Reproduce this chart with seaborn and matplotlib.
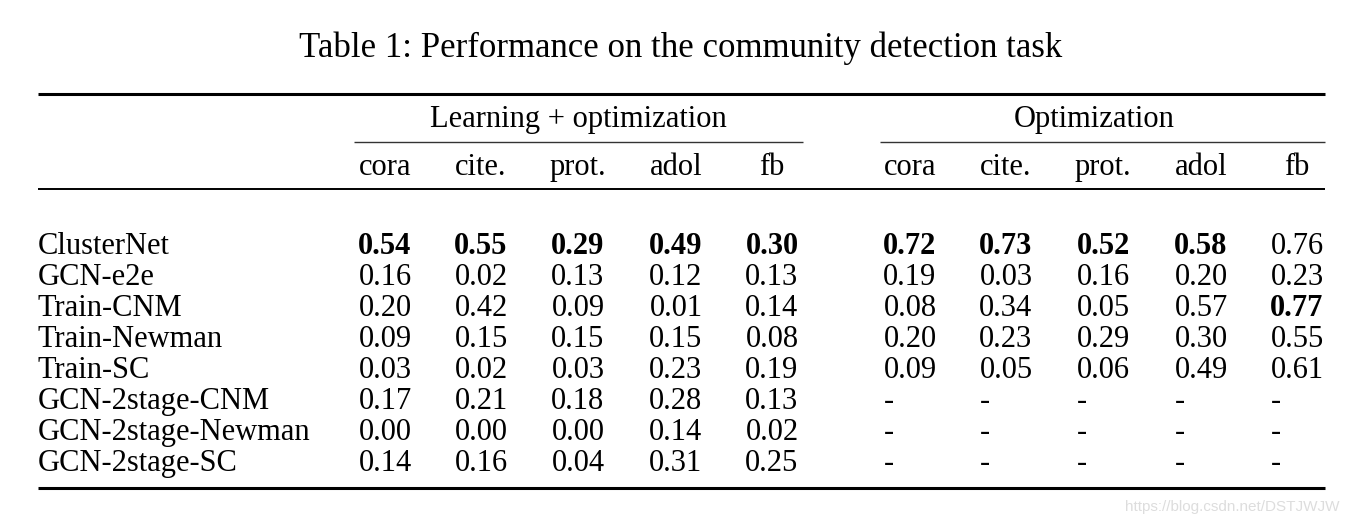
import matplotlib
matplotlib.use("Agg")
import matplotlib.pyplot as plt
import seaborn as sns

# table content
methods = ["ClusterNet", "GCN-e2e", "Train-CNM", "Train-Newman", "Train-SC",
           "GCN-2stage-CNM", "GCN-2stage-Newman", "GCN-2stage-SC"]
datasets = ["cora", "cite.", "prot.", "adol", "fb"]
groups = ["Learning + optimization", "Optimization"]

learn_vals = [
    [0.54, 0.55, 0.29, 0.49, 0.30],
    [0.16, 0.02, 0.13, 0.12, 0.13],
    [0.20, 0.42, 0.09, 0.01, 0.14],
    [0.09, 0.15, 0.15, 0.15, 0.08],
    [0.03, 0.02, 0.03, 0.23, 0.19],
    [0.17, 0.21, 0.18, 0.28, 0.13],
    [0.00, 0.00, 0.00, 0.14, 0.02],
    [0.14, 0.16, 0.04, 0.31, 0.25],
]
opt_vals = [
    [0.72, 0.73, 0.52, 0.58, 0.76],
    [0.19, 0.03, 0.16, 0.20, 0.23],
    [0.08, 0.34, 0.05, 0.57, 0.77],
    [0.20, 0.23, 0.29, 0.30, 0.55],
    [0.09, 0.05, 0.06, 0.49, 0.61],
    [None] * 5,
    [None] * 5,
    [None] * 5,
]

title = "Table 1: Performance on the community detection task"
watermark = "https://blog.csdn.net/DSTJWJW"

sns.set_theme(style="white")
plt.rcParams["font.family"] = ["Liberation Serif", "DejaVu Serif"]
plt.rcParams["text.color"] = "black"

W, H = 1348, 520
fig = plt.figure(figsize=(W / 100, H / 100), dpi=100)
ax = fig.add_axes([0, 0, 1, 1])
ax.set_xlim(0, W)
ax.set_ylim(H, 0)
ax.axis("off")

fs = 22
left_x = 38
right_x = 1325
col_x = [[385, 481, 578, 676, 772], [910, 1006, 1103, 1201, 1297]]
row_y0, row_dy = 253.5, 31.1

ax.text(681, 57, title, ha="center", va="baseline", fontsize=25)

# rules
ax.plot([left_x, right_x], [94, 94], color="black", lw=2.2, solid_capstyle="butt")
ax.plot([left_x, right_x], [189, 189], color="black", lw=1.4, solid_capstyle="butt")
ax.plot([left_x, right_x], [488, 488], color="black", lw=2.2, solid_capstyle="butt")
for g, name in enumerate(groups):
    xs = col_x[g]
    x0, x1 = (354, 803) if g == 0 else (880, right_x)
    ax.text((x0 + x1) / 2 + (0 if g == 0 else -8), 127, name, ha="center", va="baseline", fontsize=fs)
    ax.plot([x0, x1], [141.5, 141.5], color="#333333", lw=1.0, solid_capstyle="butt")
    for x, d in zip(xs, datasets):
        ax.text(x, 175, d, ha="center", va="baseline", fontsize=fs)

for g, vals in enumerate([learn_vals, opt_vals]):
    for j in range(len(datasets)):
        col = [r[j] for r in vals if r[j] is not None]
        best = max(col)
        for i, r in enumerate(vals):
            y = row_y0 + i * row_dy
            v = r[j]
            if v is None:
                ax.text(col_x[g][j] - 21, y, "-", ha="center", va="baseline", fontsize=fs)
            else:
                ax.text(col_x[g][j], y, f"{v:.2f}", ha="center", va="baseline", fontsize=fs,
                        fontweight="bold" if v == best else "normal")

for i, m in enumerate(methods):
    ax.text(left_x, row_y0 + i * row_dy, m, ha="left", va="baseline", fontsize=fs)

ax.text(1340, 511, watermark, ha="right", va="baseline", fontsize=11,
        color="#dddddd", family=["Liberation Sans", "DejaVu Sans"])

fig.savefig("out.png", dpi=100, facecolor="white")
